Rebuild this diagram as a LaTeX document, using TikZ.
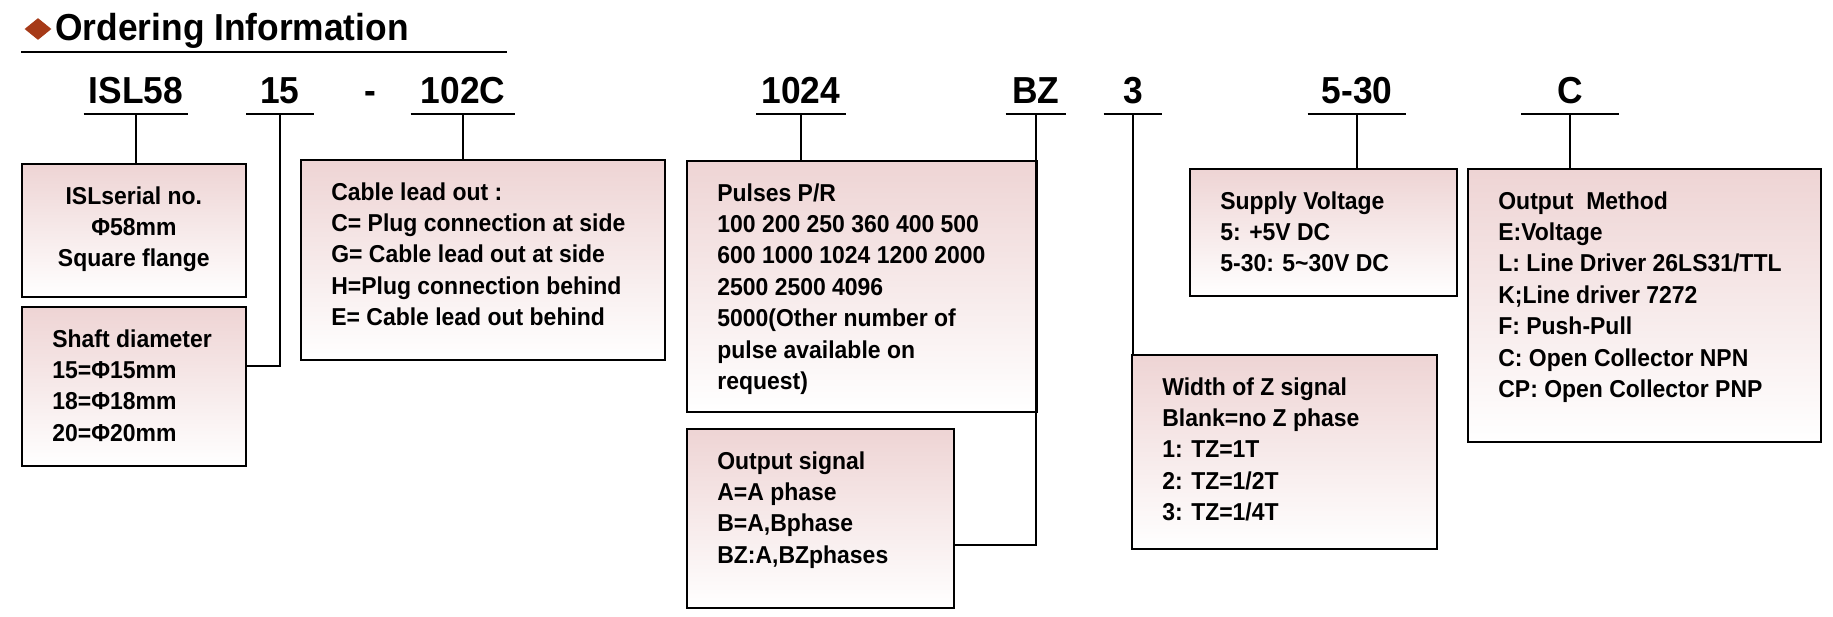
\documentclass[tikz,border=0pt]{standalone}
\usepackage{fontspec}
\setmainfont{Liberation Sans}[FakeStretch=0.94]
\usetikzlibrary{shapes.geometric}
\definecolor{boxpink}{RGB}{238,212,212}
\definecolor{bullet}{RGB}{166,58,24}
\tikzset{
  codebox/.style={anchor=south, inner xsep=0pt, inner ysep=5.7pt, text depth=0pt, font=\fontsize{21.4}{25}\selectfont\bfseries},
  uline/.style={line width=1.6pt},
  infobox/.style={draw, line width=1pt, anchor=north west, top color=boxpink, bottom color=white, inner sep=0pt},
  infotext/.style={anchor=north west, inner sep=0pt, align=left, font=\fontsize{13.9}{17.9}\selectfont\bfseries},
  link/.style={line width=1.2pt},
}
\begin{document}
\begin{tikzpicture}[x=0.02cm, y=-0.02cm]
\useasboundingbox (0,0) rectangle (1833,616);
% heading
\node[diamond, fill=bullet, minimum width=0.54cm, minimum height=0.44cm, inner sep=0pt] (dot) at (38,29) {};
\node[anchor=base west, inner sep=0pt, font=\fontsize{21.4}{25}\selectfont\bfseries] (heading) at (55,40) {Ordering Information};
\draw[uline] (21,52) -- (507,52);

% code letters
\node[codebox, minimum width=2.08cm] (cisl) at (136,114) {ISL58};
\node[codebox, minimum width=1.34cm] (c15) at (280,114) {15};
\node[codebox] (cdash) at (370,114) {-};
\node[codebox, minimum width=2.08cm] (c102) at (463,114) {102C};
\node[codebox, minimum width=1.78cm] (c1024) at (801,114) {1024};
\node[codebox, minimum width=1.20cm] (cbz) at (1036,114) {BZ};
\node[codebox, minimum width=1.16cm] (c3) at (1133,114) {3};
\node[codebox, minimum width=1.96cm] (c530) at (1357,114) {5-30};
\node[codebox, minimum width=1.94cm] (cc) at (1570,114) {C};
\foreach \c in {cisl,c15,c102,c1024,cbz,c3,c530,cc}
  \draw[uline] (\c.south west) -- (\c.south east);

% boxes
\node[infobox, minimum width=4.48cm, minimum height=2.66cm] (serial) at (21,163) {};
\node[infotext, anchor=north, align=center] (serialtext) at ([yshift=-0.46cm]serial.north) {ISLserial no.\\Φ58mm\\Square flange};

\node[infobox, minimum width=4.48cm, minimum height=3.18cm] (shaft) at (21,306) {};
\node[infotext] (shafttext) at ([shift={(31,23)}]shaft.north west) {Shaft diameter\\15=Φ15mm\\18=Φ18mm\\20=Φ20mm};

\node[infobox, minimum width=7.28cm, minimum height=4.00cm] (cable) at (300,159) {};
\node[infotext] (cabletext) at ([shift={(31,23)}]cable.north west) {Cable lead out :\\C= Plug connection at side\\G= Cable lead out at side\\H=Plug connection behind\\E= Cable lead out behind};

\node[infobox, minimum width=7.00cm, minimum height=5.02cm] (pulses) at (686,160) {};
\node[infotext] (pulsestext) at ([shift={(31,23)}]pulses.north west) {Pulses P/R\\100 200 250 360 400 500\\600 1000 1024 1200 2000\\2500 2500 4096\\5000(Other number of\\pulse available on\\request)};

\node[infobox, minimum width=5.34cm, minimum height=3.58cm] (outsig) at (686,428) {};
\node[infotext] (outsigtext) at ([shift={(31,23)}]outsig.north west) {Output signal\\A=A phase\\B=A,Bphase\\BZ:A,BZphases};

\node[infobox, minimum width=6.10cm, minimum height=3.88cm] (zwidth) at (1131,354) {};
\node[infotext] (zwidthtext) at ([shift={(31,23)}]zwidth.north west) {Width of Z signal\\Blank=no Z phase\\1: TZ=1T\\2: TZ=1/2T\\3: TZ=1/4T};

\node[infobox, minimum width=5.34cm, minimum height=2.54cm] (supply) at (1189,168) {};
\node[infotext] (supplytext) at ([shift={(31,23)}]supply.north west) {Supply Voltage\\5: +5V DC\\5-30: 5\textasciitilde30V DC};

\node[infobox, minimum width=7.06cm, minimum height=5.46cm] (method) at (1467,168) {};
\node[infotext] (methodtext) at ([shift={(31,23)}]method.north west) {Output\ \ Method\\E:Voltage\\L: Line Driver 26LS31/TTL\\K;Line driver 7272\\F: Push-Pull\\C: Open Collector NPN\\CP: Open Collector PNP};

% links
\draw[link] (cisl.south) -- (cisl.south |- serial.north);
\draw[link] (c15.south) |- ([yshift=0.4cm]shaft.east);
\draw[link] (c102.south) -- (c102.south |- cable.north);
\draw[link] (c1024.south) -- (c1024.south |- pulses.north);
\draw[link] (cbz.south) |- ([yshift=-0.53cm]outsig.east);
\draw[link] (c3.south) -- (c3.south |- zwidth.north);
\draw[link] (c530.south) -- (c530.south |- supply.north);
\draw[link] (cc.south) -- (cc.south |- method.north);
\end{tikzpicture}
\end{document}
